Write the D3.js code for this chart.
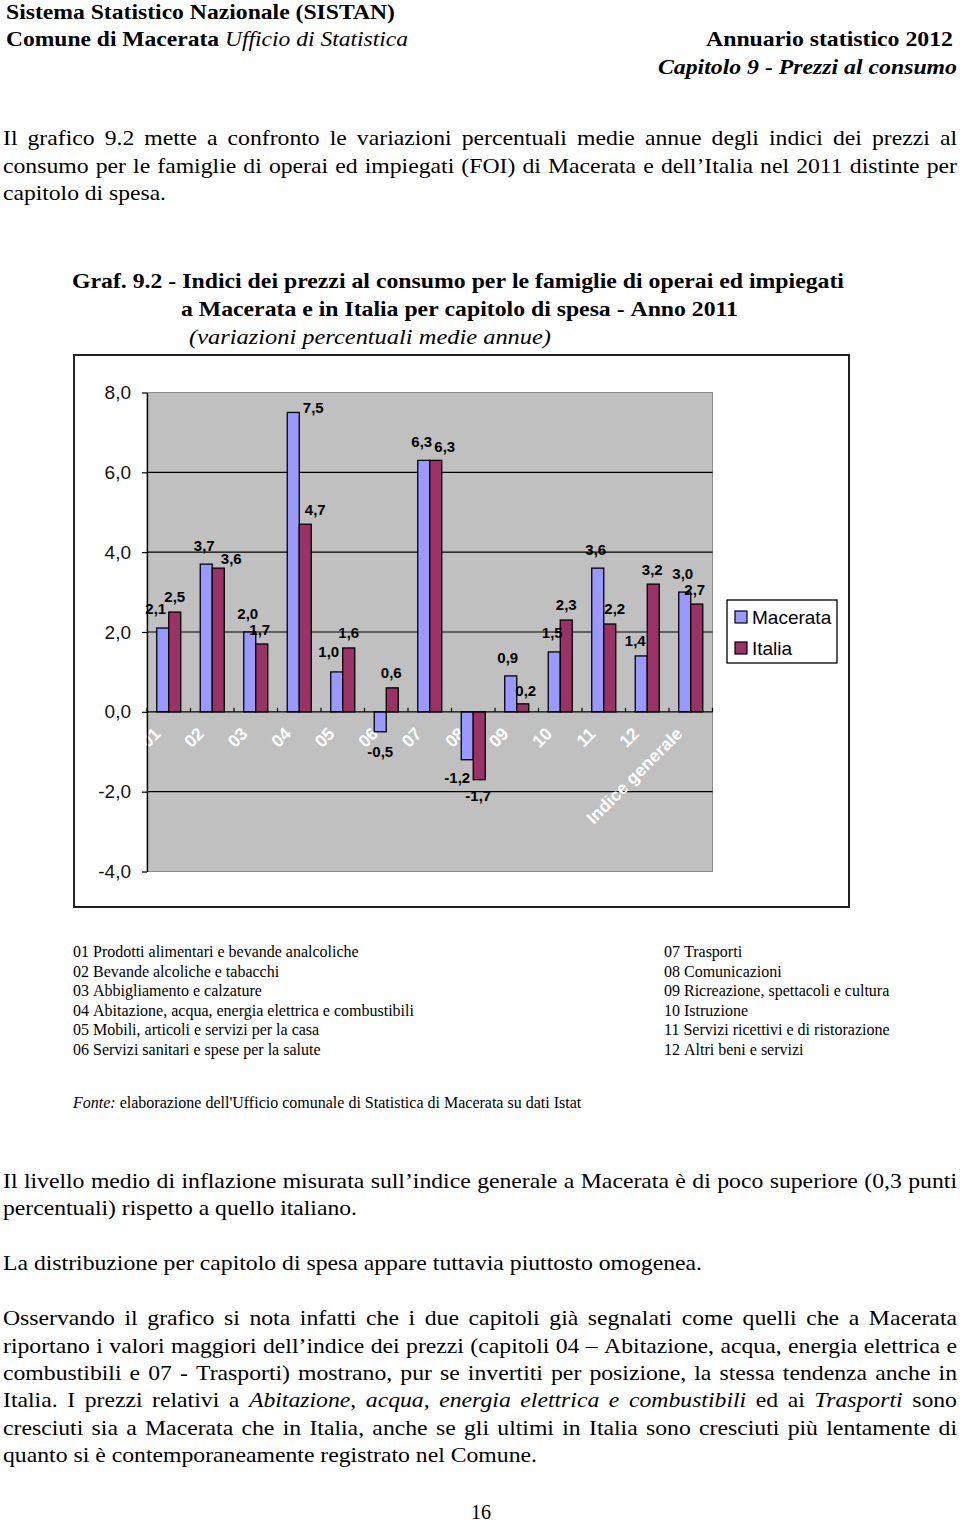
<!DOCTYPE html>
<html><head><meta charset="utf-8">
<script src="https://cdn.jsdelivr.net/npm/d3@7"></script>
<style>body{margin:0;background:#fff}svg{display:block}</style>
</head><body>
<script>
// ---------------- DATA ----------------
const categories = ["01","02","03","04","05","06","07","08","09","10","11","12","Indice generale"];
const seriesNames = ["Macerata","Italia"];
const macerata = [2.1, 3.7, 2.0, 7.5, 1.0, -0.5, 6.3, -1.2, 0.9, 1.5, 3.6, 1.4, 3.0];
const italia   = [2.5, 3.6, 1.7, 4.7, 1.6, 0.6, 6.3, -1.7, 0.2, 2.3, 2.2, 3.2, 2.7];
const yTickValues = [-4, -2, 0, 2, 4, 6, 8];
const chaptersLeft = [
  "01 Prodotti alimentari e bevande analcoliche",
  "02 Bevande alcoliche e tabacchi",
  "03 Abbigliamento e calzature",
  "04 Abitazione, acqua, energia elettrica e combustibili",
  "05 Mobili, articoli e servizi per la casa",
  "06 Servizi sanitari e spese per la salute"
];
const chaptersRight = [
  "07 Trasporti",
  "08 Comunicazioni",
  "09 Ricreazione, spettacoli e cultura",
  "10 Istruzione",
  "11 Servizi ricettivi e di ristorazione",
  "12 Altri beni e servizi"
];

// ---------------- LAYOUT / STYLE ----------------
const colors = {Macerata: "#9999FF", Italia: "#993366"};
const SERIF = "'Liberation Serif','Times New Roman',serif";
const SANS = "Arial,'Liberation Sans',sans-serif";
// small manual nudges of the data labels, as in the original (dx, gap in px)
const labelNudge = {
  Macerata: {dx:[-7,-2,-2,20,-8,0,-2,-10,-3,-2,-2,-6,-2], gap:[19,19,18,5,20,20,19,18,18,19,19,15,18]},
  Italia:   {dx:[0,13,-2,10,0,-1,9,-1,3,0,5,-1,-2],       gap:[15,9.5,14,15,15,15,14,16,13,15,15,15,14]}
};

const svg = d3.select("body").append("svg").attr("width", 960).attr("height", 1524);
svg.append("rect").attr("width", 960).attr("height", 1524).attr("fill", "#fff");

function styleOf(st) {
  return {weight: st.includes("b") ? "bold" : "normal", style: st.includes("i") ? "italic" : "normal"};
}
const measurer = svg.append("text").attr("x", -1000).attr("y", -1000);
function measure(t, size, family, st) {
  const s = styleOf(st);
  measurer.attr("font-size", size).attr("font-family", family)
    .attr("font-weight", s.weight).attr("font-style", s.style).text(t);
  return measurer.node().getComputedTextLength();
}
function drawLine(g, segs, x, y, o) {
  const size = o.size, fam = o.family || SERIF;
  const words = [];
  segs.forEach(([t, st]) => t.split(" ").filter(Boolean).forEach(w => words.push({t: w, st})));
  words.forEach(w => w.nw = measure(w.t, size, fam, w.st));
  const sp = measure("a a", size, fam, "n") - measure("aa", size, fam, "n");
  const sumN = d3.sum(words, w => w.nw);
  let s = 1, gap = sp;
  if (o.justify) {
    s = o.scale; gap = (o.width - sumN * s) / (words.length - 1);
  } else if (o.width) {
    s = o.width / (sumN + (words.length - 1) * sp); gap = sp * s;
  }
  const total = sumN * s + gap * (words.length - 1);
  let cx = o.anchor === "end" ? x - total : o.anchor === "middle" ? x - total / 2 : x;
  words.forEach(w => {
    const sty = styleOf(w.st);
    const t = g.append("text").attr("x", cx).attr("y", y)
      .attr("font-size", size).attr("font-family", fam)
      .attr("font-weight", sty.weight).attr("font-style", sty.style)
      .attr("fill", o.fill || "#000").text(w.t);
    if (Math.abs(s - 1) > 0.001) t.attr("textLength", w.nw * s).attr("lengthAdjust", "spacingAndGlyphs");
    cx += w.nw * s + gap;
  });
}
function condense(text, width, size, st) {
  const words = text.split(" ");
  const sp = measure("a a", size, SERIF, "n") - measure("aa", size, SERIF, "n");
  const n = d3.sum(words, w => measure(w, size, SERIF, st)) + (words.length - 1) * sp;
  return width / n;
}

const doc = svg.append("g");
// Header
drawLine(doc, [["Sistema Statistico Nazionale (SISTAN)", "b"]], 6, 19, {size: 21, width: 389});
drawLine(doc, [["Comune di Macerata", "b"], ["Ufficio di Statistica", "i"]], 6, 46, {size: 21, width: 402});
drawLine(doc, [["Annuario statistico 2012", "b"]], 953, 46, {size: 21, width: 247, anchor: "end"});
drawLine(doc, [["Capitolo 9 - Prezzi al consumo", "bi"]], 957, 74, {size: 21, width: 299, anchor: "end"});

// Paragraph 1
const bodySize = 21;
const sBody = condense("La distribuzione per capitolo di spesa appare tuttavia piuttosto omogenea.", 699, bodySize, "n");
drawLine(doc, [["Il grafico 9.2 mette a confronto le variazioni percentuali medie annue degli indici dei prezzi al", "n"]], 3, 145, {size: bodySize, width: 954, justify: true, scale: sBody});
drawLine(doc, [["consumo per le famiglie di operai ed impiegati (FOI) di Macerata e dell\u2019Italia nel 2011 distinte per", "n"]], 3, 173, {size: bodySize, width: 954, justify: true, scale: sBody});
drawLine(doc, [["capitolo di spesa.", "n"]], 3, 200, {size: bodySize, width: 163});

// Chart title
drawLine(doc, [["Graf. 9.2 - Indici dei prezzi al consumo per le famiglie di operai ed impiegati", "b"]], 72, 288, {size: 22, width: 772});
drawLine(doc, [["a Macerata e in Italia per capitolo di spesa - Anno 2011", "b"]], 181, 316, {size: 22, width: 557});
drawLine(doc, [["(variazioni percentuali medie annue)", "i"]], 189, 344, {size: 22, width: 362});

// ---------------- CHART ----------------
const chart = svg.append("g");
chart.append("rect").attr("x", 74).attr("y", 355).attr("width", 775).attr("height", 552)
  .attr("fill", "#fff").attr("stroke", "#222").attr("stroke-width", 2);

const plot = {left: 147, right: 712.5, top: 392.5, bottom: 871.5};
const y = d3.scaleLinear().domain([-4, 8]).range([plot.bottom, plot.top]);
const x0 = d3.scaleBand().domain(categories).range([plot.left, plot.right])
  .paddingInner(0.448).paddingOuter(0.224);
const x1 = d3.scaleBand().domain(seriesNames).range([0, x0.bandwidth()]);
const seriesValues = {Macerata: macerata, Italia: italia};

chart.append("rect").attr("x", plot.left).attr("y", plot.top)
  .attr("width", plot.right - plot.left).attr("height", plot.bottom - plot.top)
  .attr("fill", "#C0C0C0").attr("stroke", "#8a8a8a").attr("stroke-width", 1);

chart.selectAll("line.grid").data(yTickValues.filter(v => v !== 0 && v !== -4 && v !== 8))
  .enter().append("line").attr("class", "grid")
  .attr("x1", plot.left).attr("x2", plot.right)
  .attr("y1", d => y(d)).attr("y2", d => y(d))
  .attr("stroke", "#000").attr("stroke-width", 1.2);

// category labels (white, rotated) — drawn below the bars
chart.selectAll("text.cat").data(categories).enter().append("text").attr("class", "cat")
  .attr("transform", d => `translate(${x0(d) + x0.bandwidth() / 2 - 7},${y(0) + 23}) rotate(-45)`)
  .attr("text-anchor", "end")
  .attr("font-family", SANS).attr("font-weight", "bold").attr("font-size", 17.5)
  .attr("fill", "#fff").text(d => d);

// bars
seriesNames.forEach(s => {
  chart.selectAll(null).data(categories).enter().append("rect")
    .attr("x", (c) => x0(c) + x1(s))
    .attr("y", (c, i) => y(Math.max(0, seriesValues[s][i])))
    .attr("width", x1.bandwidth())
    .attr("height", (c, i) => Math.abs(y(seriesValues[s][i]) - y(0)))
    .attr("fill", colors[s]).attr("stroke", "#000").attr("stroke-width", 1.3);
});

// zero axis with tick marks at category boundaries
chart.append("line").attr("x1", plot.left).attr("x2", plot.right)
  .attr("y1", y(0)).attr("y2", y(0)).attr("stroke", "#000").attr("stroke-width", 1.3);
chart.selectAll("line.xt").data(d3.range(categories.length + 1)).enter().append("line")
  .attr("x1", i => plot.left + i * x0.step()).attr("x2", i => plot.left + i * x0.step())
  .attr("y1", y(0) - 4).attr("y2", y(0)).attr("stroke", "#000").attr("stroke-width", 1.2);

// y axis
const yAxis = d3.axisLeft(y).tickValues(yTickValues).tickSize(5).tickSizeOuter(0).tickPadding(11)
  .tickFormat(d => d.toFixed(1).replace(".", ","));
const ya = chart.append("g").attr("transform", `translate(${plot.left},0)`).call(yAxis);
ya.select(".domain").attr("stroke", "#000").attr("stroke-width", 1.3);
ya.selectAll(".tick line").attr("stroke", "#000").attr("stroke-width", 1.2);
ya.selectAll(".tick text").attr("font-family", SANS).attr("font-size", 19).attr("fill", "#111");

// data labels
seriesNames.forEach(s => {
  const vals = seriesValues[s], nud = labelNudge[s];
  chart.selectAll(null).data(categories).enter().append("text")
    .attr("x", (c, i) => x0(c) + x1(s) + x1.bandwidth() / 2 + nud.dx[i])
    .attr("y", (c, i) => vals[i] >= 0 ? y(vals[i]) - nud.gap[i] : y(vals[i]) + nud.gap[i])
    .attr("dy", "0.36em").attr("text-anchor", "middle")
    .attr("font-family", SANS).attr("font-weight", "bold").attr("font-size", 15).attr("fill", "#000")
    .text((c, i) => vals[i].toFixed(1).replace(".", ","));
});

// legend
const lg = chart.append("g");
lg.append("rect").attr("x", 727).attr("y", 600).attr("width", 110).attr("height", 63)
  .attr("fill", "#fff").attr("stroke", "#000").attr("stroke-width", 1.3);
seriesNames.forEach((s, i) => {
  const cy = 617 + i * 31;
  lg.append("rect").attr("x", 735).attr("y", cy - 6).attr("width", 12).attr("height", 12)
    .attr("fill", colors[s]).attr("stroke", "#000").attr("stroke-width", 1.2);
  lg.append("text").attr("x", 752).attr("y", cy).attr("dy", "0.36em")
    .attr("font-family", SANS).attr("font-size", 19).attr("fill", "#000").text(s);
});

// ---------------- chapter legend & source ----------------
chaptersLeft.forEach((t, i) => drawLine(doc, [[t, "n"]], 73, 957 + i * 19.6, {size: 16}));
chaptersRight.forEach((t, i) => drawLine(doc, [[t, "n"]], 664, 957 + i * 19.6, {size: 16}));
drawLine(doc, [["Fonte:", "i"], ["elaborazione dell'Ufficio comunale di Statistica di Macerata su dati Istat", "n"]], 73, 1108, {size: 16});

// ---------------- lower text ----------------
const J = {size: bodySize, width: 954, justify: true, scale: sBody};
drawLine(doc, [["Il livello medio di inflazione misurata sull\u2019indice generale a Macerata è di poco superiore (0,3 punti", "n"]], 3, 1188, J);
drawLine(doc, [["percentuali) rispetto a quello italiano.", "n"]], 3, 1215, {size: bodySize, width: 354});
drawLine(doc, [["La distribuzione per capitolo di spesa appare tuttavia piuttosto omogenea.", "n"]], 3, 1270, {size: bodySize, width: 699});
drawLine(doc, [["Osservando il grafico si nota infatti che i due capitoli già segnalati come quelli che a Macerata", "n"]], 3, 1325, J);
drawLine(doc, [["riportano i valori maggiori dell\u2019indice dei prezzi (capitoli 04 \u2013 Abitazione, acqua, energia elettrica e", "n"]], 3, 1353, J);
drawLine(doc, [["combustibili e 07 - Trasporti) mostrano, pur se invertiti per posizione, la stessa tendenza anche in", "n"]], 3, 1380, J);
drawLine(doc, [["Italia. I prezzi relativi a", "n"], ["Abitazione, acqua, energia elettrica e combustibili", "i"], ["ed ai", "n"], ["Trasporti", "i"], ["sono", "n"]], 3, 1407, J);
drawLine(doc, [["cresciuti sia a Macerata che in Italia, anche se gli ultimi in Italia sono cresciuti più lentamente di", "n"]], 3, 1435, J);
drawLine(doc, [["quanto si è contemporaneamente registrato nel Comune.", "n"]], 3, 1462, {size: bodySize, width: 534});
drawLine(doc, [["16", "n"]], 481, 1519, {size: 20, anchor: "middle"});
measurer.remove();
</script>
</body></html>
